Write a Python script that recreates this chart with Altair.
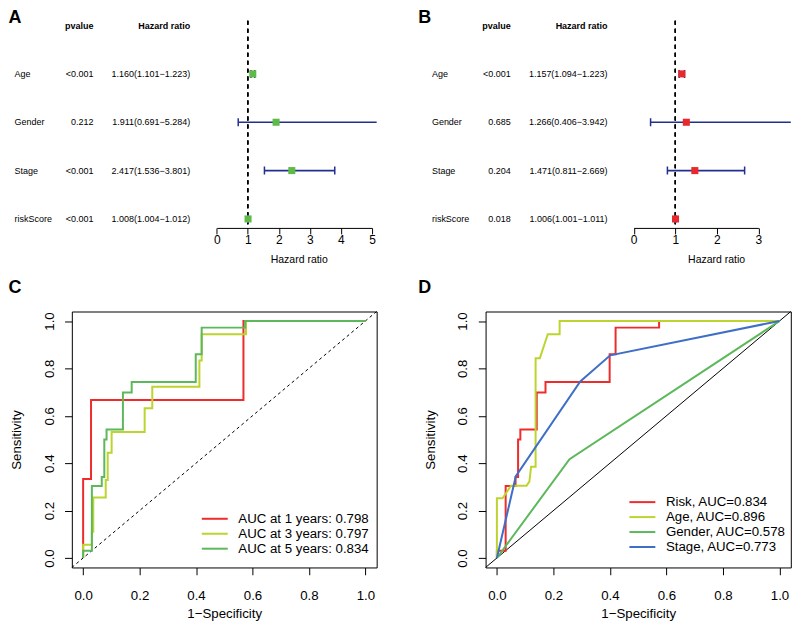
import altair as alt
import pandas as pd

FONT = "Liberation Sans"

# ---------------- data ----------------
variables = ["Age", "Gender", "Stage", "riskScore"]

a_pvalue = ["<0.001", "0.212", "<0.001", "<0.001"]
a_hr = [1.160, 1.911, 2.417, 1.008]
a_low = [1.101, 0.691, 1.536, 1.004]
a_high = [1.223, 5.284, 3.801, 1.012]
a_ticks = [0, 1, 2, 3, 4, 5]

b_pvalue = ["<0.001", "0.685", "0.204", "0.018"]
b_hr = [1.157, 1.266, 1.471, 1.006]
b_low = [1.094, 0.406, 0.811, 1.001]
b_high = [1.223, 3.942, 2.669, 1.011]
b_ticks = [0, 1, 2, 3]

roc_ticks = [0.0, 0.2, 0.4, 0.6, 0.8, 1.0]

c_names = ["AUC at 1 years: 0.798", "AUC at 3 years: 0.797", "AUC at 5 years: 0.834"]
c_colors = ["#EE2C2C", "#BDD42F", "#5DB85B"]
c1_fpr = [0, 0, 0.028, 0.028, 0.568, 0.568, 1]
c1_tpr = [0, 0.333, 0.333, 0.667, 0.667, 1, 1]
c3_fpr = [0, 0, 0.031, 0.031, 0.036, 0.036, 0.080, 0.080, 0.087, 0.087, 0.101, 0.101,
          0.218, 0.218, 0.245, 0.245, 0.412, 0.412, 0.420, 0.420, 0.577, 0.577, 1]
c3_tpr = [0, 0.056, 0.056, 0.111, 0.111, 0.255, 0.255, 0.329, 0.329, 0.444, 0.444, 0.532,
          0.532, 0.632, 0.632, 0.722, 0.722, 0.833, 0.833, 0.944, 0.944, 1, 1]
c5_fpr = [0, 0, 0.031, 0.031, 0.066, 0.066, 0.075, 0.075, 0.083, 0.083, 0.141, 0.141,
          0.172, 0.172, 0.399, 0.399, 0.420, 0.420, 0.574, 0.574, 1]
c5_tpr = [0, 0.030, 0.030, 0.304, 0.304, 0.342, 0.342, 0.500, 0.500, 0.542, 0.542, 0.698,
          0.698, 0.743, 0.743, 0.860, 0.860, 0.972, 0.972, 1, 1]

d_names = ["Risk, AUC=0.834", "Age, AUC=0.896", "Gender, AUC=0.578", "Stage, AUC=0.773"]
d_colors = ["#EE2C2C", "#BDD42F", "#5DB85B", "#3E6EC5"]
risk_fpr = [0, 0, 0.031, 0.031, 0.066, 0.066, 0.075, 0.075, 0.083, 0.083, 0.141, 0.141,
            0.172, 0.172, 0.399, 0.399, 0.420, 0.420, 0.574, 0.574, 1]
risk_tpr = [0, 0.030, 0.030, 0.304, 0.304, 0.342, 0.342, 0.500, 0.500, 0.542, 0.542, 0.698,
            0.698, 0.743, 0.743, 0.860, 0.860, 0.972, 0.972, 1, 1]
age_fpr = [0, 0, 0.020, 0.050, 0.105, 0.115, 0.121, 0.137, 0.137, 0.152, 0.180, 0.222, 0.222, 1]
age_tpr = [0, 0.252, 0.252, 0.305, 0.305, 0.322, 0.385, 0.385, 0.843, 0.843, 0.944, 0.944, 1, 1]
gender_fpr = [0, 0.257, 1]
gender_tpr = [0, 0.417, 1]
stage_fpr = [0, 0.067, 0.295, 0.401, 1]
stage_tpr = [0, 0.345, 0.745, 0.855, 1]

# ---------------- layout ----------------
W1, W2 = 305.6, 306.0
H1, H2 = 207.7, 256.6
SHIFT2 = 3.6                      # column 2 moved left so the page does not overflow
COLSP, ROWSP = 112.4 - SHIFT2, 83.5


def letter_layer(letter, dx, dy):
    return alt.Chart(pd.DataFrame({"t": [letter]})).mark_text(
        align="left", baseline="top", fontSize=18, fontWeight="bold", font=FONT, color="black"
    ).encode(x=alt.value(dx), y=alt.value(dy), text="t:N")


def forest(letter, letter_dx, pvals, hr, low, high, ticks, xrange, sq_color, width, off):
    df = pd.DataFrame({
        "var": variables, "pvalue": pvals, "hr": hr, "low": low, "high": high,
        "label": [f"{h:.3f}({l:.3f}\u2212{u:.3f})" for h, l, u in zip(hr, low, high)],
    })
    rows = ["header"] + variables
    ysc = alt.Scale(type="point", domain=rows, range=[4.8, 198.7], padding=0)
    xsc = alt.Scale(domain=[ticks[0], ticks[-1]], range=[xrange[0] + off, xrange[1] + off],
                    nice=False, zero=False)
    xaxis = alt.Axis(
        values=ticks, format="d", grid=False, domain=True, domainColor="black", domainWidth=1,
        ticks=True, tickColor="black", tickSize=6, tickWidth=1, labelFont=FONT,
        labelFontSize=12, labelColor="black", labelBaseline="alphabetic", labelPadding=10,
        labelFlush=False, labelOverlap=False, title="Hazard ratio", titleFont=FONT,
        titleFontSize=10.5, titleFontWeight="normal", titleColor="black",
        titleBaseline="alphabetic", titleAlign="center", titleX=227.5 + off, titleY=34.6,
    )

    def X(field):
        return alt.X(field, scale=xsc, axis=xaxis, title="Hazard ratio")

    Y = alt.Y("var:N", scale=ysc, axis=None)
    base = alt.Chart(df)
    ref = base.mark_rule(color="black", strokeDash=[4, 4], strokeWidth=1.2).encode(
        x=alt.datum(1))
    ci = base.mark_rule(color="#232F8E", strokeWidth=1.6, clip=True).encode(
        x=X("low:Q"), x2="high:Q", y=Y)
    cap_lo = base.mark_tick(color="#232F8E", size=8, thickness=1.5, opacity=1, clip=True).encode(
        x=X("low:Q"), y=Y)
    cap_hi = base.mark_tick(color="#232F8E", size=8, thickness=1.5, opacity=1, clip=True).encode(
        x=X("high:Q"), y=Y)
    sq = base.mark_square(color=sq_color, size=50, opacity=1).encode(x=X("hr:Q"), y=Y)
    txt_kw = dict(baseline="middle", fontSize=9, font=FONT, color="black")
    lab = base.mark_text(align="left", **txt_kw).encode(
        x=alt.value(-57.4 + off), y=Y, text="var:N")
    pv = base.mark_text(align="right", **txt_kw).encode(
        x=alt.value(21.6 + off), y=Y, text="pvalue:N")
    hrt = base.mark_text(align="right", **txt_kw).encode(
        x=alt.value(118.6 + off), y=Y, text="label:N")
    hdr = alt.Chart(pd.DataFrame({"var": ["header"], "p": ["pvalue"], "h": ["Hazard ratio"]}))
    h1 = hdr.mark_text(align="right", fontWeight="bold", **txt_kw).encode(
        x=alt.value(21.6 + off), y=Y, text="p:N")
    h2 = hdr.mark_text(align="right", fontWeight="bold", **txt_kw).encode(
        x=alt.value(118.6 + off), y=Y, text="h:N")
    let = letter_layer(letter, letter_dx + off, -12)
    return alt.layer(ref, ci, cap_lo, cap_hi, sq, lab, pv, hrt, h1, h2, let).properties(
        width=width, height=H1)


def roc(letter, letter_dx, curves, names, colors, lx, ly, dashed, width):
    sc = alt.Scale(domain=[-0.04, 1.04], nice=False, zero=False)
    common = dict(
        values=roc_ticks, format=".1f", grid=False, domain=False, ticks=True,
        tickColor="black", tickSize=7.3, tickWidth=1, labelFont=FONT, labelFontSize=13.3,
        labelColor="black", labelFlush=False, labelOverlap=False, titleFont=FONT,
        titleFontSize=13.3, titleFontWeight="normal", titleColor="black",
        titleBaseline="alphabetic", titleAlign="center",
    )
    xaxis = alt.Axis(labelBaseline="alphabetic", labelPadding=25, title="1\u2212Specificity",
                     titleY=50.2, titleX=width / 2, **common)
    yaxis = alt.Axis(labelAngle=270, labelAlign="center", labelBaseline="alphabetic",
                     labelPadding=11.4, title="Sensitivity", titleAngle=270, titleX=-51.2,
                     titleY=H2 / 2, **common)
    cs = alt.Scale(domain=names, range=colors)
    legend = alt.Legend(
        orient="none", legendX=lx, legendY=ly, title=None, symbolType="M-2,0H2",
        symbolSize=169, symbolStrokeWidth=2, labelFont=FONT, labelFontSize=13.3,
        labelColor="black", labelOffset=16.1, rowPadding=1.0, padding=0, labelLimit=400,
    )
    diag_kw = dict(color="black", strokeWidth=1)
    if dashed:
        diag_kw["strokeDash"] = [3, 3]
    diag = alt.Chart(pd.DataFrame({"d": [0]})).mark_rule(**diag_kw).encode(
        x=alt.X(datum=-0.04, scale=sc, axis=xaxis),
        y=alt.Y(datum=-0.04, scale=sc, axis=yaxis),
        x2=alt.datum(1.04), y2=alt.datum(1.04),
    )
    layers = [diag]
    for name, (fpr, tpr) in zip(names, curves):
        df = pd.DataFrame({"fpr": fpr, "tpr": tpr, "curve": name, "i": list(range(len(fpr)))})
        layers.append(alt.Chart(df).mark_line(strokeWidth=2).encode(
            x=alt.X("fpr:Q", scale=sc, axis=xaxis, title="1\u2212Specificity"),
            y=alt.Y("tpr:Q", scale=sc, axis=yaxis, title="Sensitivity"),
            color=alt.Color("curve:N", scale=cs, legend=legend),
            order="i:Q",
        ))
    layers.append(letter_layer(letter, letter_dx, -32.3))
    return alt.layer(*layers).properties(
        width=width, height=H2, view=alt.ViewBackground(stroke="black", strokeWidth=1))


A = forest("A", -63.4, a_pvalue, a_hr, a_low, a_high, a_ticks, [145.3, 300.9], "#5DBB46", W1, 0)
B = forest("B", -71.1, b_pvalue, b_hr, b_low, b_high, b_ticks, [144.9, 269.9], "#E8282C", W2,
           SHIFT2)
C = roc("C", -63.4, [(c1_fpr, c1_tpr), (c3_fpr, c3_tpr), (c5_fpr, c5_tpr)], c_names, c_colors,
        135.8, 200.3, True, W1)
D = roc("D", -71.1 + SHIFT2, [(risk_fpr, risk_tpr), (age_fpr, age_tpr), (gender_fpr, gender_tpr),
                              (stage_fpr, stage_tpr)], d_names, d_colors, 146.1 + SHIFT2, 183.6,
        False, W2)

chart = alt.concat(
    A, B, C, D, columns=2, spacing={"row": ROWSP, "column": COLSP}, bounds="flush"
).resolve_scale(
    x="independent", y="independent", color="independent"
).resolve_legend(color="independent").properties(
    padding=0, background="white"
).configure(font=FONT).configure_view(strokeWidth=0)

chart.save("out.html", embed_options={"renderer": "svg", "actions": False})
